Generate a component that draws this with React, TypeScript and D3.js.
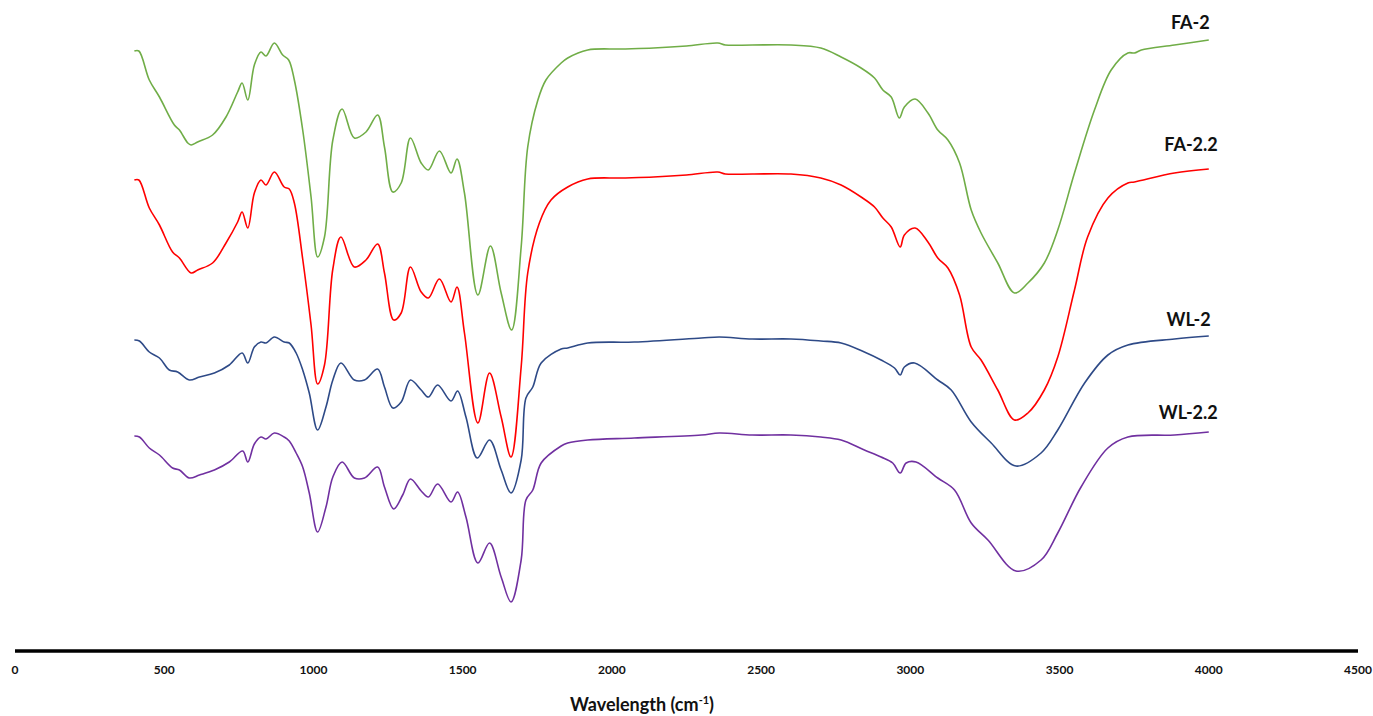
import React from "react";
import * as d3 from "d3";

// Wavenumber (cm-1) and relative transmittance (offset, a.u.) for each sample
const fa2W = [400,415,450,484,534,551,579,590,612,662,707,746,761,780,802,824,841,869,897,917,936,964,992,1014,1037,1065,1096,1137,1176,1215,1238,1266,1294,1325,1361,1385,1422,1461,1481,1506,1551,1593,1629,1664,1696,1718,1752,1779,1830,1852,1919,2030,2140,2250,2355,2380,2470,2600,2700,2768,2835,2880,2908,2936,2963,2980,3016,3059,3092,3126,3165,3204,3237,3293,3349,3394,3449,3494,3550,3617,3673,3729,3751,3774,3885,4000];
const fa2V = [600,600,571,554,526,521,508,506,509,516,534,559,568,551,586,599,595,608,596,591,571,521,454,394,414,511,542,513,519,536,504,459,468,513,488,481,500,478,492,458,356,405,358,321,404,504,551,571,588,593,601,602,603,605,608,606,606,606,603,594,583,573,561,554,533,544,552,538,521,511,488,441,418,388,358,368,388,421,478,541,581,598,598,601,606,611];

const fa22W = [400,415,450,484,528,551,590,612,662,707,746,761,780,802,824,841,869,902,919,936,964,992,1014,1037,1065,1092,1137,1176,1215,1238,1269,1294,1325,1361,1385,1422,1461,1481,1506,1551,1590,1629,1662,1696,1718,1757,1796,1852,1919,2030,2140,2250,2355,2380,2470,2600,2700,2768,2835,2880,2908,2936,2966,2980,3016,3059,3092,3126,3165,3204,3237,3293,3349,3394,3449,3494,3550,3594,3662,3729,3751,3885,4000];
const fa22V = [471,471,443,426,399,393,378,381,388,408,429,439,423,458,471,466,479,464,462,448,392,326,267,286,382,414,384,391,407,378,331,338,384,359,353,372,349,364,318,228,278,234,194,284,378,428,451,464,472,473,474,476,479,477,477,477,473,466,454,444,433,424,404,416,423,409,393,383,356,304,291,261,231,238,261,294,361,414,453,468,469,478,482];

const wl2W = [400,417,450,484,517,545,584,618,668,718,761,780,802,824,841,869,902,919,942,964,986,1014,1042,1065,1092,1137,1171,1215,1238,1266,1294,1325,1361,1385,1416,1461,1483,1511,1549,1590,1629,1662,1696,1712,1735,1763,1830,1852,1919,2075,2300,2360,2470,2600,2700,2768,2846,2902,2947,2966,2980,3014,3092,3137,3204,3271,3354,3438,3494,3584,3662,3729,3885,4000];
const wl2V = [311,310,299,293,281,279,271,274,278,286,298,288,304,309,308,314,309,308,298,281,258,221,244,271,288,271,271,282,264,243,249,271,261,254,266,250,260,234,193,211,181,158,191,253,264,288,302,303,308,309,313,314,312,312,310,308,299,291,283,276,284,288,271,261,229,208,185,198,221,268,296,306,312,315];

const wl22W = [400,417,450,484,528,551,584,618,668,718,763,780,802,824,841,869,902,919,942,964,986,1014,1042,1065,1096,1137,1171,1215,1238,1269,1299,1325,1361,1385,1416,1461,1483,1511,1551,1590,1629,1662,1696,1712,1735,1763,1830,1852,1919,2075,2300,2360,2470,2600,2700,2768,2846,2902,2941,2966,2986,3019,3092,3148,3204,3260,3354,3438,3494,3572,3662,3729,3885,4000];
const wl22V = [215,214,203,196,183,181,173,176,181,189,200,189,207,214,212,218,214,210,198,184,158,119,144,174,189,173,173,184,164,142,156,172,160,154,167,149,159,134,88,108,74,49,91,151,161,188,205,208,211,213,216,218,216,216,214,211,201,194,188,178,188,189,173,161,128,111,80,91,118,164,203,214,216,219];

const seriesNames = ["FA-2", "FA-2.2", "WL-2", "WL-2.2"];
const xTicks = [0, 500, 1000, 1500, 2000, 2500, 3000, 3500, 4000, 4500];

const seriesStyle = [
  { color: "#70AD47", dx: 1, dy: -11 },
  { color: "#FF0000", dx: 9, dy: -18 },
  { color: "#2E4A87", dx: 2, dy: -10 },
  { color: "#7030A0", dx: 9, dy: -13 },
];

export default function App() {
  const W = 1373, H = 716;
  const x = d3.scaleLinear().domain([0, 4500]).range([15, 1358]);
  const y = d3.scaleLinear().domain([0, 640]).range([651, 11]);
  const line = d3
    .line<[number, number]>()
    .x((d) => x(d[0]))
    .y((d) => y(d[1]))
    .curve(d3.curveCatmullRom.alpha(0.5));

  const data: [number, number][][] = [
    fa2W.map((w, i) => [w, fa2V[i]]),
    fa22W.map((w, i) => [w, fa22V[i]]),
    wl2W.map((w, i) => [w, wl2V[i]]),
    wl22W.map((w, i) => [w, wl22V[i]]),
  ];

  const font = "Lato, 'Open Sans', 'Liberation Sans', sans-serif";

  return (
    <svg width={W} height={H} style={{ position: "absolute", left: 0, top: 0, background: "#fff" }}>
      <rect width={W} height={H} fill="#fff" />
      {data.map((pts, i) => {
        const last = pts[pts.length - 1];
        const st = seriesStyle[i];
        return (
          <g key={seriesNames[i]}>
            <path d={line(pts) || ""} fill="none" stroke={st.color} strokeWidth={1.6} strokeLinejoin="round" />
            <text
              x={x(last[0]) + st.dx}
              y={y(last[1]) + st.dy}
              textAnchor="end"
              fontFamily={font}
              fontWeight="bold"
              fontSize={18}
              fill="#111"
            >
              {seriesNames[i]}
            </text>
          </g>
        );
      })}
      <line x1={x(0)} x2={x(4500)} y1={y(0)} y2={y(0)} stroke="#000" strokeWidth={3.5} />
      {xTicks.map((t) => (
        <text key={t} x={x(t)} y={674} textAnchor="middle" fontFamily={font} fontWeight="bold" fontSize={12} fill="#111">
          {t}
        </text>
      ))}
      <text x={642} y={711} textAnchor="middle" fontFamily={font} fontWeight="bold" fontSize={18} fill="#111">
        Wavelength (cm<tspan dy={-7} fontSize={11}>-1</tspan><tspan dy={7}>)</tspan>
      </text>
    </svg>
  );
}
